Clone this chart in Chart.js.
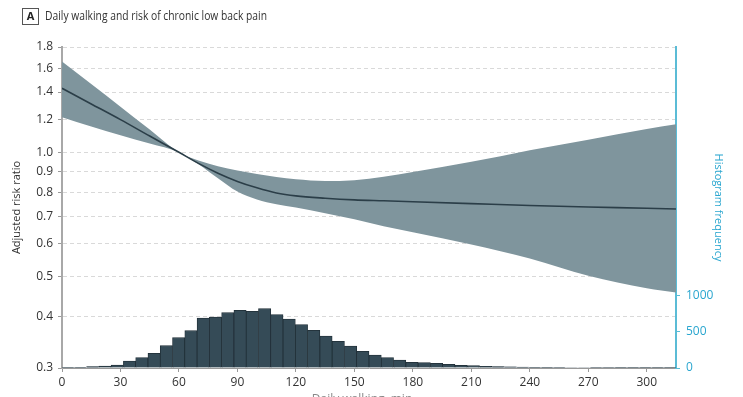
<!DOCTYPE html>
<html>
<head>
<meta charset="utf-8">
<script src="https://cdn.jsdelivr.net/npm/chart.js@4.4.1/dist/chart.umd.min.js"></script>
<style>
  html, body { margin: 0; padding: 0; background: #fff; }
  #wrap { width: 743px; height: 397px; }
</style>
</head>
<body>
<div id="wrap"><canvas id="chart" width="743" height="397"></canvas></div>
<script>
// Spline estimate (minutes of daily walking vs adjusted RR)
const minutes = [0, 15, 30, 45, 60, 70, 80, 90, 100, 110, 120, 135, 150, 165, 180, 210, 240, 270, 300, 315];
const riskRatio = [1.43, 1.31, 1.20, 1.095, 1.0, 0.94, 0.89, 0.85, 0.82, 0.797, 0.784, 0.774, 0.767, 0.763, 0.759, 0.751, 0.743, 0.737, 0.732, 0.729];
const ciUpper = [1.66, 1.465, 1.29, 1.135, 1.0, 0.955, 0.925, 0.903, 0.886, 0.871, 0.860, 0.852, 0.856, 0.872, 0.896, 0.948, 1.012, 1.073, 1.139, 1.169];
const ciLower = [1.216, 1.155, 1.10, 1.05, 1.0, 0.935, 0.865, 0.803, 0.768, 0.748, 0.735, 0.712, 0.688, 0.662, 0.640, 0.598, 0.553, 0.502, 0.468, 0.457];

// Histogram of daily walking (bin width 6.3 min)
const binWidth = 6.3;
const histCounts = [9, 9, 19, 28, 42, 97, 144, 204, 310, 421, 518, 694, 708, 768, 801, 787, 824, 741, 681, 602,
  523, 444, 370, 306, 231, 181, 144, 111, 80, 76, 65, 51, 37, 32, 23, 18, 16, 12, 10, 9,
  8, 7, 7, 6, 6, 5, 5, 5, 4, 4];
const histBins = histCounts.map((_, i) => +(i * binWidth + binWidth / 2).toFixed(2));

// Axis ticks
const xTicks = [0, 30, 60, 90, 120, 150, 180, 210, 240, 270, 300];
const yTicks = [0.3, 0.4, 0.5, 0.6, 0.7, 0.8, 0.9, 1.0, 1.2, 1.4, 1.6, 1.8];
const freqTicks = [0, 500, 1000];

const BAND = '#7f959d';
const LINE = '#2b3e48';
const BAR = '#354b57';
const CYAN = '#2aa6cf';
const TICK_FONT = { family: 'Open Sans', size: 12 };

const pts = ys => minutes.map((m, i) => ({ x: m, y: ys[i] }));

const headerPlugin = {
  id: 'header',
  afterDraw(chart) {
    const ctx = chart.ctx;
    ctx.save();
    // panel letter box
    ctx.strokeStyle = '#555';
    ctx.lineWidth = 1;
    ctx.strokeRect(22.5, 8.5, 16, 16);
    ctx.fillStyle = '#222';
    ctx.font = 'bold 11px "Open Sans"';
    ctx.textAlign = 'center';
    ctx.textBaseline = 'middle';
    ctx.fillText('A', 30.5, 17);
    // title, squeezed to the condensed width of the original
    const title = 'Daily walking and risk of chronic low back pain';
    ctx.font = '12px "Open Sans"';
    const w = ctx.measureText(title).width;
    ctx.translate(45, 17);
    ctx.scale(222 / w, 1);
    ctx.textAlign = 'left';
    ctx.fillStyle = '#333';
    ctx.fillText(title, 0, 0);
    ctx.restore();

    // x axis title (cropped at bottom edge)
    ctx.save();
    ctx.font = '12px "Open Sans"';
    ctx.fillStyle = '#888';
    ctx.textAlign = 'center';
    ctx.textBaseline = 'top';
    ctx.fillText('Daily walking, min', 362, 394);
    ctx.restore();
  }
};

new Chart(document.getElementById('chart'), {
  type: 'line',
  data: {
    datasets: [
      {
        label: 'Adjusted risk ratio',
        data: pts(riskRatio),
        borderColor: LINE,
        borderWidth: 1.6,
        pointRadius: 0,
        cubicInterpolationMode: 'monotone',
        fill: false,
        yAxisID: 'y'
      },
      {
        label: 'Upper 95% CI',
        data: pts(ciUpper),
        borderColor: 'rgba(0,0,0,0)',
        borderWidth: 0,
        pointRadius: 0,
        cubicInterpolationMode: 'monotone',
        backgroundColor: BAND,
        fill: '+1',
        yAxisID: 'y'
      },
      {
        label: 'Lower 95% CI',
        data: pts(ciLower),
        borderColor: 'rgba(0,0,0,0)',
        borderWidth: 0,
        pointRadius: 0,
        cubicInterpolationMode: 'monotone',
        fill: false,
        yAxisID: 'y'
      },
      {
        type: 'bar',
        label: 'Histogram frequency',
        data: histBins.map((b, i) => ({ x: b, y: histCounts[i] })),
        backgroundColor: BAR,
        borderColor: '#1f2d35',
        borderWidth: 0.8,
        barPercentage: 1,
        categoryPercentage: 1,
        grouped: false,
        yAxisID: 'y2'
      }
    ]
  },
  options: {
    responsive: false,
    animation: false,
    layout: { padding: { top: 47, left: 0, right: 0, bottom: 0 } },
    plugins: { legend: { display: false }, tooltip: { enabled: false } },
    scales: {
      x: {
        type: 'linear',
        min: 0,
        max: 315,
        offset: false,
        afterBuildTicks: s => { s.ticks = xTicks.map(v => ({ value: v })); },
        afterFit: s => { s.height = 29; },
        ticks: { color: '#333', font: TICK_FONT, padding: 3, maxRotation: 0 },
        grid: { offset: false, drawOnChartArea: false, drawTicks: true, tickLength: 4, tickColor: '#999' },
        border: { display: true, color: '#999', width: 1 }
      },
      y: {
        type: 'logarithmic',
        position: 'left',
        min: 0.3,
        max: 1.8,
        afterBuildTicks: s => { s.ticks = yTicks.map(v => ({ value: v })); },
        afterFit: s => { s.width = 62; },
        ticks: { color: '#333', font: TICK_FONT, padding: 5, callback: v => Number(v).toFixed(1) },
        grid: { color: '#d9d9d9', lineWidth: 1, tickLength: 4, tickColor: '#999' },
        border: { display: true, color: '#a8a8a8', width: 2, dash: [4, 3] },
        title: { display: true, text: 'Adjusted risk ratio', color: '#333', font: { family: 'Open Sans', size: 11 }, padding: { top: 10, bottom: 0 } }
      },
      y2: {
        type: 'linear',
        position: 'right',
        min: 0,
        max: 4458,
        afterBuildTicks: s => { s.ticks = freqTicks.map(v => ({ value: v })); },
        afterFit: s => { s.width = 67; },
        ticks: { color: CYAN, font: TICK_FONT, padding: 6, callback: v => String(v) },
        grid: { drawOnChartArea: false, tickLength: 4, tickColor: '#5bbcd6' },
        border: { display: true, color: '#5bbcd6', width: 2 },
        title: { display: true, text: 'Histogram frequency', color: CYAN, font: { family: 'Open Sans', size: 11 }, padding: { top: 18, bottom: 0 } }
      }
    }
  },
  plugins: [headerPlugin]
});
</script>
</body>
</html>
